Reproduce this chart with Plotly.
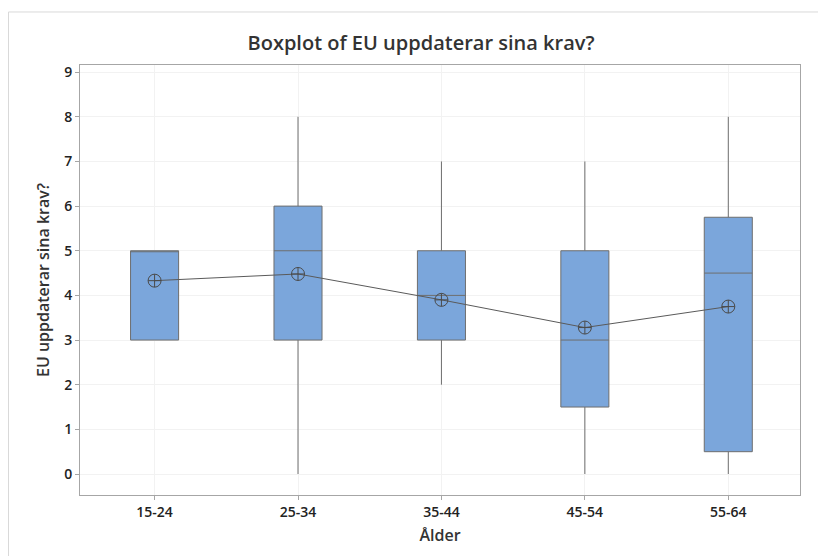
import plotly.graph_objects as go

categories = ["15-24", "25-34", "35-44", "45-54", "55-64"]
q1 = [3, 3, 3, 1.5, 0.5]
median = [5, 5, 4, 3, 4.5]
q3 = [5, 6, 5, 5, 5.75]
lower = [3, 0, 2, 0, 0]
upper = [5, 8, 7, 7, 8]
means = [4.33, 4.48, 3.9, 3.28, 3.75]
y_ticks = list(range(0, 10))

FONT = "Open Sans"
fig = go.Figure()
fig.add_trace(go.Box(
    x=categories, q1=q1, median=median, q3=q3,
    lowerfence=lower, upperfence=upper,
    fillcolor="#7BA6DB", line=dict(color="#6E6E6E", width=1),
    whiskerwidth=0, width=0.335, boxpoints=False, showlegend=False,
    hoverinfo="skip",
))
fig.add_trace(go.Scatter(
    x=categories, y=means, mode="lines+markers",
    line=dict(color="#5A5A5A", width=1),
    marker=dict(symbol="circle-cross-open", size=13, color="#4A4A4A",
                line=dict(width=1, color="#4A4A4A")),
    showlegend=False, hoverinfo="skip",
))

fig.update_layout(
    width=826, height=556,
    margin=dict(l=72, r=34, t=57, b=69),
    paper_bgcolor="white", plot_bgcolor="white",
    title=dict(text="Boxplot of EU uppdaterar sina krav?", x=0.5, xanchor="center",
               y=0.937, yanchor="middle",
               font=dict(family=FONT, size=20, color="#333333", weight=600)),
    font=dict(family=FONT, color="#333333"),
    shapes=[dict(type="rect", xref="paper", yref="paper",
                 x0=-0.0993, x1=1.2, y0=-0.3, y1=1.1233,
                 line=dict(color="#D9D9D9", width=1), layer="below")],
)
fig.update_xaxes(
    range=[-0.52, 4.5], showgrid=True, gridcolor="#F2F2F2",
    showline=True, linecolor="#A6A6A6", mirror=True,
    ticks="outside", ticklen=4, tickcolor="#A6A6A6",
    tickfont=dict(family=FONT, size=14, color="#222222", weight=600),
    title=dict(text="Ålder", font=dict(family=FONT, size=16, color="#333333", weight=600), standoff=10),
)
fig.update_yaxes(
    range=[-0.47, 9.16], tickvals=y_ticks, showgrid=True, gridcolor="#F2F2F2",
    zeroline=False,
    showline=True, linecolor="#A6A6A6", mirror=True,
    ticks="outside", ticklen=4, tickcolor="#A6A6A6",
    tickfont=dict(family=FONT, size=14, color="#222222", weight=600),
    title=dict(text="EU uppdaterar sina krav?", font=dict(family=FONT, size=16, color="#333333", weight=600), standoff=10),
)
fig.write_html("out.html")
